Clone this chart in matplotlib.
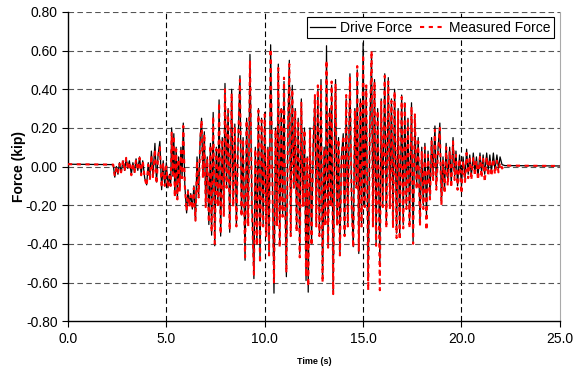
import matplotlib
matplotlib.use("Agg")
import matplotlib.pyplot as plt

plt.rcParams['font.family'] = ['Liberation Sans', 'DejaVu Sans']

# peaks and valleys (time in s, force in kip)
time_s = [
    0.00, 2.30, 2.38, 2.46, 2.54, 2.62, 2.70, 2.80, 2.88, 2.96,
    3.04, 3.12, 3.22, 3.30, 3.38, 3.46, 3.55, 3.64, 3.72, 3.80,
    3.90, 4.00, 4.08, 4.16, 4.24, 4.32, 4.42, 4.50, 4.58, 4.67,
    4.76, 4.84, 4.92, 5.00, 5.08, 5.16, 5.22, 5.27, 5.33, 5.38,
    5.43, 5.50, 5.56, 5.62, 5.68, 5.74, 5.80, 5.86, 5.94, 6.03,
    6.10, 6.17, 6.24, 6.32, 6.40, 6.48, 6.56, 6.64, 6.72, 6.79,
    6.86, 6.93, 7.00, 7.08, 7.16, 7.24, 7.30, 7.38, 7.46, 7.54,
    7.62, 7.68, 7.76, 7.84, 7.92, 7.98, 8.06, 8.14, 8.22, 8.32,
    8.40, 8.48, 8.56, 8.64, 8.74, 8.82, 8.90, 9.00, 9.08, 9.16,
    9.25, 9.35, 9.45, 9.52, 9.60, 9.68, 9.76, 9.84, 9.92, 10.00,
    10.08, 10.16, 10.22, 10.30, 10.38, 10.47, 10.55, 10.62, 10.69, 10.76,
    10.84, 10.91, 10.98, 11.04, 11.10, 11.18, 11.25, 11.32, 11.40, 11.48,
    11.55, 11.62, 11.70, 11.78, 11.86, 11.94, 12.02, 12.10, 12.16, 12.21,
    12.30, 12.38, 12.46, 12.55, 12.62, 12.70, 12.78, 12.86, 12.94, 13.02,
    13.08, 13.14, 13.22, 13.30, 13.36, 13.40, 13.48, 13.56, 13.60, 13.68,
    13.75, 13.82, 13.90, 13.99, 14.06, 14.14, 14.22, 14.33, 14.42, 14.50,
    14.58, 14.66, 14.70, 14.78, 14.86, 14.92, 15.00, 15.08, 15.16, 15.26,
    15.34, 15.43, 15.50, 15.58, 15.66, 15.74, 15.85, 15.92, 16.00, 16.10,
    16.18, 16.28, 16.36, 16.44, 16.52, 16.60, 16.70, 16.78, 16.86, 16.96,
    17.04, 17.12, 17.20, 17.28, 17.36, 17.46, 17.54, 17.63, 17.72, 17.80,
    17.89, 17.98, 18.06, 18.14, 18.22, 18.30, 18.40, 18.48, 18.56, 18.65,
    18.72, 18.80, 18.90, 18.98, 19.06, 19.14, 19.22, 19.30, 19.40, 19.48,
    19.57, 19.65, 19.72, 19.80, 19.90, 20.00, 20.08, 20.18, 20.26, 20.34,
    20.42, 20.50, 20.60, 20.68, 20.76, 20.84, 20.94, 21.02, 21.10, 21.18,
    21.28, 21.36, 21.44, 21.52, 21.62, 21.70, 21.80, 21.88, 21.96, 22.06,
    22.20, 25.00,
]

drive_force = [
    0.012, 0.010, -0.055, 0.000, -0.040, 0.020, -0.030, 0.030, -0.020, 0.045,
    -0.010, 0.030, -0.040, 0.020, -0.030, 0.040, -0.020, 0.050, -0.040, 0.030,
    -0.060, -0.095, 0.020, -0.060, 0.080, -0.050, 0.120, -0.080, 0.060, 0.130,
    -0.120, 0.030, -0.100, 0.020, -0.110, -0.040, -0.100, 0.200, -0.050, 0.170,
    -0.150, 0.100, -0.170, 0.050, -0.120, 0.100, -0.050, 0.225, -0.100, -0.240,
    -0.120, -0.200, -0.140, -0.220, -0.100, -0.280, 0.050, -0.150, 0.150, 0.250,
    -0.050, 0.180, -0.200, 0.050, -0.300, 0.120, -0.355, 0.280, -0.410, 0.100,
    -0.200, 0.345, -0.360, 0.150, -0.250, 0.430, -0.100, 0.300, -0.340, 0.400,
    -0.200, 0.220, -0.300, 0.100, 0.470, -0.250, 0.150, -0.485, 0.250, -0.300,
    0.580, -0.200, -0.580, 0.100, -0.400, 0.300, -0.485, 0.250, -0.300, 0.280,
    -0.350, 0.100, -0.450, 0.630, 0.000, -0.655, 0.200, -0.300, 0.530, -0.400,
    0.300, -0.250, 0.440, -0.200, -0.570, 0.200, 0.550, -0.350, 0.420, -0.100,
    0.300, -0.330, 0.250, -0.450, 0.350, -0.200, 0.200, -0.590, 0.050, -0.650,
    0.200, -0.400, 0.100, 0.350, -0.300, 0.400, -0.350, 0.450, -0.590, 0.100,
    -0.300, 0.625, -0.400, 0.300, -0.200, 0.420, -0.650, 0.200, 0.450, -0.300,
    0.150, -0.450, 0.050, 0.170, -0.350, 0.350, -0.300, 0.480, -0.200, -0.415,
    0.300, -0.100, 0.500, -0.450, 0.350, -0.300, 0.640, -0.200, 0.400, -0.590,
    0.200, 0.570, -0.300, 0.450, -0.400, 0.300, -0.500, 0.350, -0.200, 0.480,
    -0.300, 0.460, -0.200, 0.350, -0.300, 0.400, -0.345, 0.300, -0.360, 0.370,
    -0.300, 0.330, -0.200, 0.250, -0.300, 0.330, -0.390, 0.250, -0.100, 0.150,
    -0.290, 0.100, -0.200, 0.120, -0.250, 0.080, -0.150, 0.150, -0.050, 0.210,
    -0.100, 0.080, 0.225, -0.190, 0.050, -0.120, 0.120, -0.080, 0.100, -0.090,
    0.150, -0.050, 0.080, -0.100, 0.060, -0.100, 0.050, -0.060, 0.090, -0.040,
    0.060, -0.050, 0.070, -0.030, 0.050, -0.050, 0.070, -0.030, 0.060, -0.040,
    0.070, -0.020, 0.060, -0.030, 0.070, -0.020, 0.060, -0.010, 0.050, 0.010,
    0.005, 0.003,
]

measured_force = [
    0.012, 0.010, -0.050, -0.010, -0.035, 0.015, -0.030, 0.035, -0.025, 0.045,
    -0.015, 0.025, -0.045, 0.020, -0.035, 0.035, -0.020, 0.045, -0.045, 0.030,
    -0.060, -0.100, 0.010, -0.070, 0.060, -0.060, 0.090, -0.090, 0.050, 0.100,
    -0.110, 0.020, -0.100, 0.000, -0.110, -0.050, -0.100, 0.180, -0.040, 0.160,
    -0.160, 0.090, -0.170, 0.040, -0.130, 0.080, -0.060, 0.210, -0.100, -0.230,
    -0.130, -0.210, -0.150, -0.220, -0.110, -0.280, 0.030, -0.160, 0.130, 0.240,
    -0.060, 0.170, -0.210, 0.040, -0.290, 0.110, -0.340, 0.260, -0.400, 0.090,
    -0.210, 0.330, -0.350, 0.140, -0.260, 0.400, -0.110, 0.290, -0.330, 0.380,
    -0.210, 0.210, -0.310, 0.090, 0.450, -0.260, 0.140, -0.470, 0.240, -0.310,
    0.550, -0.220, -0.560, 0.090, -0.410, 0.290, -0.500, 0.240, -0.310, 0.270,
    -0.360, 0.090, -0.460, 0.610, -0.020, -0.600, 0.190, -0.310, 0.510, -0.420,
    0.310, -0.260, 0.460, -0.210, -0.550, 0.190, 0.530, -0.360, 0.400, -0.110,
    0.290, -0.340, 0.240, -0.470, 0.330, -0.210, 0.190, -0.570, 0.040, -0.620,
    0.190, -0.410, 0.090, 0.370, -0.310, 0.420, -0.360, 0.430, -0.600, 0.090,
    -0.310, 0.550, -0.420, 0.290, -0.210, 0.440, -0.660, 0.190, 0.430, -0.310,
    0.140, -0.460, 0.040, 0.160, -0.360, 0.370, -0.310, 0.460, -0.210, -0.420,
    0.290, -0.110, 0.520, -0.440, 0.340, -0.310, 0.580, -0.210, 0.420, -0.640,
    0.190, 0.600, -0.310, 0.440, -0.410, 0.290, -0.640, 0.340, -0.210, 0.470,
    -0.320, 0.440, -0.220, 0.340, -0.320, 0.390, -0.370, 0.290, -0.380, 0.360,
    -0.320, 0.340, -0.220, 0.240, -0.320, 0.310, -0.400, 0.270, -0.120, 0.130,
    -0.310, 0.080, -0.220, 0.100, -0.330, 0.060, -0.170, 0.130, -0.070, 0.190,
    -0.120, 0.060, 0.200, -0.200, 0.030, -0.140, 0.100, -0.100, 0.080, -0.110,
    0.130, -0.070, 0.060, -0.120, 0.040, -0.140, 0.030, -0.080, 0.070, -0.060,
    0.040, -0.070, 0.050, -0.050, 0.030, -0.070, 0.050, -0.060, 0.040, -0.080,
    0.050, -0.050, 0.040, -0.050, 0.040, -0.040, 0.030, -0.030, 0.020, -0.010,
    0.005, 0.003,
]

y_ticks = [-0.8, -0.6, -0.4, -0.2, 0.0, 0.2, 0.4, 0.6, 0.8]
x_ticks = [0, 5, 10, 15, 20, 25]

fig = plt.figure(figsize=(5.76, 3.73), dpi=100)
ax = fig.add_axes([0.118, 0.139, 0.854, 0.829])

ax.plot(time_s, drive_force, color='black', lw=0.9, label='Drive Force', zorder=3)
ax.plot(time_s, measured_force, color='red', lw=1.5, ls=(0, (2.0, 2.2)),
        label='Measured Force', zorder=4)

ax.set_xlim(0, 25)
ax.set_ylim(-0.8, 0.8)
ax.set_xticks(x_ticks)
ax.set_xticklabels([f"{v:.1f}" for v in x_ticks])
ax.set_yticks(y_ticks)
ax.set_yticklabels([f"{v:.2f}" for v in y_ticks])
ax.tick_params(labelsize=10, direction='out', length=4, width=0.8, colors='black')

# dashed grid like the spreadsheet original
for v in x_ticks[1:-1]:
    ax.axvline(v, color='black', lw=0.8, ls=(0, (5, 3)), zorder=1)
for v in y_ticks[1:]:
    ax.axhline(v, color='#555555', lw=0.8, ls=(0, (5, 3)), zorder=1)

ax.spines['top'].set_visible(False)
ax.spines['right'].set_color('#aaaaaa')
ax.spines['left'].set_linewidth(1.0)
ax.spines['bottom'].set_linewidth(1.0)

ax.set_ylabel('Force (kip)', fontsize=10, fontweight='bold', labelpad=0)
ax.set_xlabel('Time (s)', fontsize=6.5, fontweight='bold', labelpad=8)

leg = ax.legend(loc='upper right', ncol=2, fontsize=10, frameon=True, fancybox=False,
                handlelength=1.8, handletextpad=0.3, columnspacing=0.6,
                borderpad=0.25, borderaxespad=0.4)
leg.get_frame().set_edgecolor('black')
leg.get_frame().set_linewidth(0.8)
leg.get_frame().set_alpha(1)

fig.savefig('out.png', dpi=100)
